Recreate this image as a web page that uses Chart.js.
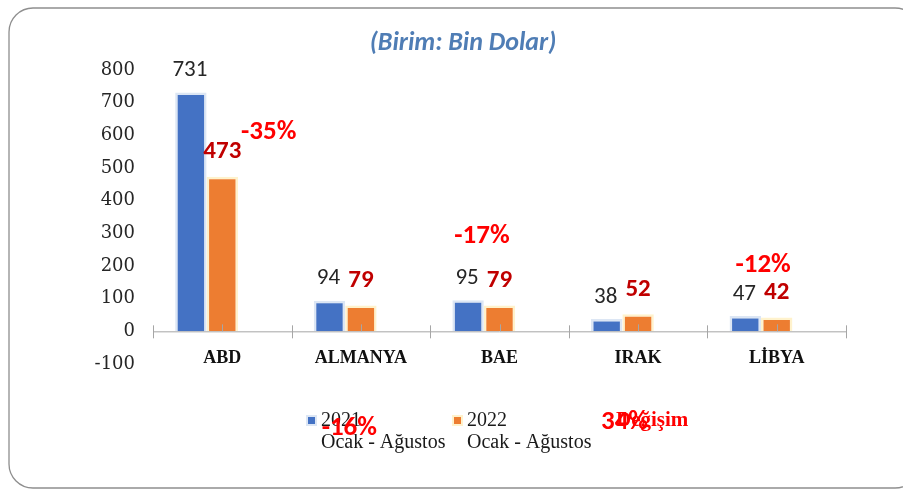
<!DOCTYPE html>
<html>
<head>
<meta charset="utf-8">
<script src="https://cdn.jsdelivr.net/npm/chart.js@4.4.0/dist/chart.umd.min.js"></script>
<style>
  html, body { margin: 0; padding: 0; background: #fff; }
  #wrap { width: 903px; height: 491px; }
</style>
</head>
<body>
<div id="wrap"><canvas id="myChart" width="903" height="491"></canvas></div>
<script>
// data
var categories = ['ABD', 'ALMANYA', 'BAE', 'IRAK', 'LİBYA'];
var values2021 = [731, 94, 95, 38, 47];
var values2022 = [473, 79, 79, 52, 42];
var changeValues = [-0.35, -0.16, -0.17, 0.34, -0.12];
var yMin = -100;
var yMax = 800;
var yStep = 100;
var series2021 = ['2021', 'Ocak - Ağustos'];
var series2022 = ['2022', 'Ocak - Ağustos'];
var seriesChange = 'Değişim';
var chartTitle = '(Birim: Bin Dolar)';

// the change labels were dragged around by hand in the original, offsets from bar x / zero line
var changeOffsets = [[15, -199], [-43, 97], [-49, -95], [-45, 91], [-45, -66]];

var sansFont = 'Carlito, "Liberation Sans", Arial, sans-serif';
var serifFont = '"Liberation Serif", "Times New Roman", serif';

var extras = {
  id: 'extras',
  beforeDraw: function(chart) {
    var ctx = chart.ctx;
    ctx.save();
    ctx.fillStyle = '#fff';
    ctx.fillRect(0, 0, chart.width, chart.height);
    ctx.strokeStyle = '#8e8e8e';
    ctx.lineWidth = 1.3;
    ctx.beginPath();
    ctx.roundRect(9, 8, 910, 480, 24);
    ctx.stroke();
    ctx.restore();
  },
  afterDraw: function(chart) {
    var ctx = chart.ctx;
    var xs = chart.scales.x;
    var ys = chart.scales.y;
    var y0 = ys.getPixelForValue(0);
    var step = xs.getPixelForValue(1) - xs.getPixelForValue(0);
    ctx.save();

    // axis line and tick marks
    ctx.strokeStyle = '#a6a6a6';
    ctx.lineWidth = 1;
    ctx.beginPath();
    ctx.moveTo(xs.left, y0 + 0.5);
    ctx.lineTo(xs.right, y0 + 0.5);
    for (var i = 0; i <= categories.length; i++) {
      var bx = Math.round(xs.getPixelForValue(0) - step / 2 + i * step) + 0.5;
      ctx.moveTo(bx, y0 - 6);
      ctx.lineTo(bx, y0 + 7);
    }
    for (var i = 0; i < categories.length; i++) {
      var cx = Math.round(xs.getPixelForValue(i)) + 0.5;
      ctx.moveTo(cx, y0 - 7);
      ctx.lineTo(cx, y0);
    }
    ctx.stroke();

    // title
    ctx.fillStyle = '#4f7db5';
    ctx.font = 'italic bold 26px ' + sansFont;
    ctx.textAlign = 'center';
    ctx.textBaseline = 'middle';
    ctx.fillText(chartTitle, 463, 43);

    // value labels
    var m1 = chart.getDatasetMeta(0);
    var m2 = chart.getDatasetMeta(1);
    var m3 = chart.getDatasetMeta(2);
    ctx.font = '23px ' + sansFont;
    ctx.fillStyle = '#262626';
    m1.data.forEach(function(el, j) {
      ctx.fillText(String(values2021[j]), el.x - 1, el.y - 22);
    });
    ctx.font = 'bold 25px ' + sansFont;
    ctx.fillStyle = '#c00000';
    m2.data.forEach(function(el, j) {
      ctx.fillText(String(values2022[j]), el.x, el.y - 25);
    });

    // legend
    var ly = 421;
    ctx.textAlign = 'left';
    ctx.font = '20px ' + serifFont;
    ctx.fillStyle = '#dce6f4';
    ctx.fillRect(306, 415, 11, 11);
    ctx.fillStyle = '#4472c4';
    ctx.fillRect(308, 417, 7, 7);
    ctx.fillStyle = '#1a1a1a';
    ctx.fillText(series2021[0], 321, ly);
    ctx.fillText(series2021[1], 321, ly + 22);
    ctx.fillStyle = '#fff2cc';
    ctx.fillRect(452, 415, 11, 11);
    ctx.fillStyle = '#ed7d31';
    ctx.fillRect(454, 417, 7, 7);
    ctx.fillStyle = '#1a1a1a';
    ctx.fillText(series2022[0], 467, ly);
    ctx.fillText(series2022[1], 467, ly + 22);
    ctx.fillStyle = '#ff0000';
    ctx.font = 'bold 21px ' + serifFont;
    ctx.fillText(seriesChange, 616, ly);

    // change labels
    ctx.textAlign = 'center';
    ctx.font = 'bold 27px ' + sansFont;
    ctx.fillStyle = '#ff0000';
    m3.data.forEach(function(el, j) {
      var txt = Math.round(changeValues[j] * 100) + '%';
      ctx.fillText(txt, el.x + changeOffsets[j][0], y0 + changeOffsets[j][1]);
    });
    ctx.restore();
  }
};

var ctx = document.getElementById('myChart').getContext('2d');
var myChart = new Chart(ctx, {
  type: 'bar',
  data: {
    labels: categories,
    datasets: [{
      label: series2021.join(' '),
      data: values2021,
      backgroundColor: '#4472c4',
      borderColor: '#dce6f4',
      borderWidth: 2.5
    }, {
      label: series2022.join(' '),
      data: values2022,
      backgroundColor: '#ed7d31',
      borderColor: '#fff2cc',
      borderWidth: 2.5
    }, {
      label: seriesChange,
      data: changeValues,
      backgroundColor: 'rgba(0,0,0,0)',
      borderWidth: 0
    }]
  },
  options: {
    responsive: false,
    animation: false,
    layout: { padding: { top: 70, bottom: 127, left: 0, right: 57 } },
    datasets: { bar: { categoryPercentage: 0.68, barPercentage: 1 } },
    plugins: {
      legend: { display: false },
      title: { display: false },
      tooltip: { enabled: false }
    },
    scales: {
      x: {
        position: { y: 0 },
        grid: { display: false, drawTicks: false },
        border: { display: false },
        ticks: {
          padding: 16,
          color: '#111',
          font: { family: serifFont, size: 18, weight: 'bold' }
        }
      },
      y: {
        min: yMin,
        max: yMax,
        grid: { display: false, drawTicks: false },
        border: { display: false },
        ticks: {
          stepSize: yStep,
          padding: 18,
          color: '#262626',
          font: { family: '"DejaVu Serif", serif', size: 18 }
        },
        afterFit: function(scale) { scale.width = 153; }
      }
    }
  },
  plugins: [extras]
});
</script>
</body>
</html>
